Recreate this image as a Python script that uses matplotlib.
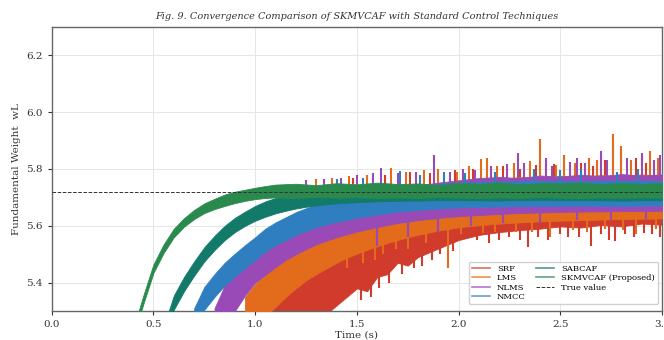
import matplotlib
matplotlib.use("Agg")
import matplotlib.pyplot as plt
from matplotlib.lines import Line2D

plt.rcParams['font.family'] = ['DejaVu Serif']

TRUE_W = 5.72

# noise bands: time (s), lower edge, upper edge
srf_t = [1.05, 1.10, 1.15, 1.20, 1.25, 1.30, 1.35, 1.40, 1.45, 1.50, 1.55, 1.60, 1.65, 1.70, 1.75,
         1.80, 1.85, 1.90, 1.95, 2.00, 2.10, 2.20, 2.30, 2.40, 2.50, 2.60, 2.70, 2.80, 2.90, 3.00]
srf_lo = [5.170, 5.210, 5.235, 5.255, 5.270, 5.275, 5.290, 5.320, 5.350, 5.380, 5.370, 5.420, 5.430, 5.470, 5.460,
          5.490, 5.505, 5.520, 5.535, 5.550, 5.568, 5.578, 5.585, 5.590, 5.598, 5.594, 5.603, 5.598, 5.608, 5.604]
srf_hi = [5.355, 5.390, 5.420, 5.450, 5.472, 5.497, 5.518, 5.538, 5.556, 5.573, 5.588, 5.603, 5.617, 5.630, 5.642,
          5.653, 5.663, 5.672, 5.681, 5.690, 5.705, 5.718, 5.729, 5.738, 5.746, 5.753, 5.758, 5.763, 5.767, 5.770]

lms_t = [0.95, 1.00, 1.05, 1.10, 1.15, 1.20, 1.25, 1.30, 1.35, 1.40, 1.45, 1.50, 1.55, 1.60, 1.65, 1.70,
         1.75, 1.80, 1.85, 1.90, 1.95, 2.00, 2.10, 2.20, 2.30, 2.40, 2.50, 2.60, 2.70, 2.80, 2.90, 3.00]
lms_lo = [5.200, 5.250, 5.280, 5.315, 5.350, 5.380, 5.408, 5.430, 5.450, 5.470, 5.488, 5.502, 5.516, 5.528, 5.540, 5.550,
          5.560, 5.568, 5.576, 5.583, 5.589, 5.595, 5.602, 5.608, 5.612, 5.616, 5.618, 5.620, 5.622, 5.624, 5.625, 5.626]
lms_hi = [5.350, 5.395, 5.430, 5.465, 5.500, 5.530, 5.558, 5.580, 5.600, 5.620, 5.636, 5.650, 5.664, 5.676, 5.688, 5.700,
          5.712, 5.722, 5.732, 5.742, 5.750, 5.756, 5.766, 5.762, 5.772, 5.768, 5.776, 5.771, 5.779, 5.774, 5.781, 5.776]

nlms_t = [0.80, 0.85, 0.90, 0.95, 1.00, 1.05, 1.10, 1.15, 1.20, 1.25, 1.30, 1.35, 1.40, 1.45, 1.50,
          1.60, 1.70, 1.80, 1.90, 2.00, 2.10, 2.20, 2.30, 2.40, 2.50, 2.60, 2.70, 2.80, 2.90, 3.00]
nlms_lo = [5.190, 5.265, 5.300, 5.355, 5.400, 5.428, 5.455, 5.480, 5.500, 5.518, 5.535, 5.548, 5.560, 5.570, 5.580,
           5.596, 5.610, 5.620, 5.628, 5.634, 5.638, 5.642, 5.645, 5.647, 5.649, 5.650, 5.651, 5.652, 5.652, 5.653]
nlms_hi = [5.310, 5.390, 5.445, 5.485, 5.520, 5.545, 5.570, 5.592, 5.612, 5.630, 5.646, 5.660, 5.672, 5.684, 5.694,
           5.712, 5.728, 5.742, 5.752, 5.760, 5.768, 5.772, 5.768, 5.777, 5.773, 5.780, 5.775, 5.782, 5.777, 5.781]

nmcc_t = [0.70, 0.75, 0.80, 0.85, 0.90, 0.95, 1.00, 1.05, 1.10, 1.15, 1.20, 1.25, 1.30,
          1.35, 1.40, 1.50, 1.60, 1.70, 1.80, 1.90, 2.00, 2.20, 2.40, 2.60, 2.80, 3.00]
nmcc_lo = [5.230, 5.305, 5.350, 5.390, 5.422, 5.452, 5.480, 5.510, 5.532, 5.550, 5.568, 5.582, 5.595,
           5.605, 5.614, 5.628, 5.640, 5.650, 5.656, 5.661, 5.665, 5.668, 5.670, 5.671, 5.670, 5.672]
nmcc_hi = [5.310, 5.385, 5.430, 5.470, 5.502, 5.532, 5.560, 5.590, 5.612, 5.630, 5.648, 5.662, 5.675,
           5.686, 5.695, 5.710, 5.722, 5.732, 5.740, 5.746, 5.752, 5.756, 5.758, 5.757, 5.759, 5.758]

sab_t = [0.55, 0.60, 0.65, 0.70, 0.75, 0.80, 0.85, 0.90, 0.95, 1.00, 1.05, 1.10, 1.15, 1.20, 1.25,
         1.30, 1.35, 1.40, 1.50, 1.60, 1.70, 1.80, 1.90, 2.00, 2.20, 2.40, 2.60, 2.80, 3.00]
sab_lo = [5.195, 5.305, 5.370, 5.425, 5.475, 5.515, 5.550, 5.578, 5.600, 5.618, 5.632, 5.644, 5.653, 5.661, 5.667,
          5.672, 5.676, 5.679, 5.683, 5.686, 5.688, 5.689, 5.690, 5.690, 5.689, 5.691, 5.690, 5.689, 5.690]
sab_hi = [5.245, 5.355, 5.420, 5.475, 5.525, 5.565, 5.600, 5.628, 5.650, 5.670, 5.686, 5.698, 5.707, 5.714, 5.720,
          5.725, 5.729, 5.732, 5.736, 5.739, 5.741, 5.742, 5.743, 5.742, 5.744, 5.743, 5.745, 5.743, 5.744]

skm_t = [0.40, 0.45, 0.50, 0.55, 0.60, 0.65, 0.70, 0.75, 0.80, 0.85, 0.90, 0.95, 1.00, 1.05,
         1.10, 1.20, 1.30, 1.40, 1.50, 1.60, 1.70, 1.80, 1.90, 2.00,
         2.10, 2.20, 2.30, 2.40, 2.50, 2.60, 2.70, 2.80, 2.90, 3.00]
skm_lo = [5.205, 5.325, 5.435, 5.505, 5.560, 5.597, 5.624, 5.645, 5.659, 5.670, 5.680, 5.688, 5.694, 5.698,
          5.700, 5.698, 5.702, 5.699, 5.701, 5.697, 5.700, 5.698, 5.701, 5.699,
          5.697, 5.700, 5.698, 5.701, 5.699, 5.697, 5.700, 5.698, 5.700, 5.699]
skm_hi = [5.235, 5.355, 5.465, 5.535, 5.590, 5.627, 5.656, 5.679, 5.695, 5.710, 5.720, 5.727, 5.734, 5.740,
          5.745, 5.748, 5.743, 5.750, 5.746, 5.752, 5.747, 5.749, 5.744, 5.751,
          5.748, 5.753, 5.746, 5.750, 5.749, 5.752, 5.747, 5.751, 5.748, 5.750]

# single spikes sticking out of the bands (time, tip value), drawn from the true value
lms_spk_t = [1.30, 1.38, 1.46, 1.55, 1.67, 1.74, 1.83, 1.90, 1.99, 2.05, 2.11, 2.14, 2.19, 2.27, 2.35,
             2.40, 2.48, 2.52, 2.57, 2.64, 2.68, 2.76, 2.80, 2.85, 2.94, 2.98,
             1.45, 1.53, 1.59, 1.63, 1.69, 1.75, 1.84, 1.95, 2.01, 2.12, 2.18, 2.28, 2.36, 2.45,
             2.56, 2.63, 2.72, 2.81, 2.87, 2.97]
lms_spk_y = [5.765, 5.770, 5.775, 5.780, 5.805, 5.790, 5.795, 5.800, 5.790, 5.810, 5.834, 5.840, 5.810, 5.820, 5.828,
             5.904, 5.815, 5.850, 5.820, 5.840, 5.830, 5.922, 5.880, 5.830, 5.863, 5.840,
             5.450, 5.470, 5.480, 5.500, 5.520, 5.520, 5.540, 5.450, 5.570, 5.575, 5.580, 5.580, 5.580, 5.560,
             5.585, 5.580, 5.590, 5.585, 5.570, 5.590]
nlms_spk_t = [1.25, 1.34, 1.42, 1.50, 1.58, 1.62, 1.70, 1.79, 1.88, 1.96, 2.02, 2.08, 2.16, 2.24, 2.29,
              2.32, 2.43, 2.46, 2.55, 2.58, 2.62, 2.70, 2.73, 2.83, 2.90, 2.96, 2.99,
              1.60, 1.75, 1.90, 2.06, 2.22, 2.40, 2.58, 2.75, 2.92]
nlms_spk_y = [5.760, 5.765, 5.770, 5.780, 5.785, 5.805, 5.785, 5.790, 5.850, 5.790, 5.800, 5.795, 5.810, 5.816, 5.857,
              5.820, 5.840, 5.810, 5.825, 5.840, 5.820, 5.863, 5.830, 5.840, 5.857, 5.830, 5.850,
              5.530, 5.560, 5.580, 5.600, 5.610, 5.610, 5.620, 5.620, 5.625]
srf_spk_t = [1.48, 1.64, 1.76, 1.86, 1.98, 2.07, 2.22, 2.30, 2.38, 2.47, 2.60, 2.66, 2.72, 2.87, 2.92,
             1.52, 1.57, 1.61, 1.66, 1.72, 1.78, 1.82, 1.87, 1.91, 1.97, 2.04, 2.09, 2.15, 2.20, 2.25,
             2.30, 2.34, 2.39, 2.44, 2.50, 2.54, 2.59, 2.65, 2.70, 2.74, 2.77, 2.82, 2.86, 2.91, 2.95, 2.99]
srf_spk_y = [5.770, 5.780, 5.790, 5.785, 5.795, 5.800, 5.810, 5.800, 5.815, 5.816, 5.820, 5.810, 5.830, 5.840, 5.820,
             5.340, 5.350, 5.380, 5.400, 5.430, 5.450, 5.460, 5.480, 5.500, 5.510, 5.559, 5.550, 5.540, 5.550, 5.560,
             5.550, 5.524, 5.560, 5.550, 5.570, 5.559, 5.560, 5.530, 5.570, 5.550, 5.545, 5.570, 5.560, 5.575, 5.570, 5.560]
nmcc_spk_t = [1.40, 1.53, 1.71, 1.81, 1.93, 2.03, 2.18, 2.37, 2.50, 2.60, 2.78, 2.88]
nmcc_spk_y = [5.765, 5.770, 5.793, 5.780, 5.790, 5.785, 5.790, 5.800, 5.795, 5.800, 5.790, 5.800]

series = [
    ("SRF", "#d03b2b", srf_t, srf_lo, srf_hi, srf_spk_t, srf_spk_y),
    ("LMS", "#e36b1c", lms_t, lms_lo, lms_hi, lms_spk_t, lms_spk_y),
    ("NLMS", "#9a4ab6", nlms_t, nlms_lo, nlms_hi, nlms_spk_t, nlms_spk_y),
    ("NMCC", "#2f7fc0", nmcc_t, nmcc_lo, nmcc_hi, nmcc_spk_t, nmcc_spk_y),
    ("SABCAF", "#137a6a", sab_t, sab_lo, sab_hi, [], []),
    ("SKMVCAF (Proposed)", "#2a8a4e", skm_t, skm_lo, skm_hi, [], []),
]

fig = plt.figure(figsize=(6.64, 3.40), dpi=100)
ax = fig.add_axes([0.078, 0.085, 0.919, 0.836])

handles = []
for z, (name, col, t, lo, hi, st, sy) in enumerate(series):
    ax.fill_between(t, lo, hi, color=col, lw=0.6, edgecolor=col, zorder=2 + z)
    if st:
        ax.vlines(st, TRUE_W, sy, color=col, lw=1.5, zorder=2 + z)
    handles.append(Line2D([], [], color=col, lw=1.2, alpha=0.75, label=name))

ax.axhline(TRUE_W, color="#333333", ls="--", lw=0.7, zorder=20)
handles.append(Line2D([], [], color="#333333", ls="--", lw=0.7, label="True value"))

ax.set_xlim(0, 3.0)
ax.set_ylim(5.3, 6.3)
ax.set_xticks([0.0, 0.5, 1.0, 1.5, 2.0, 2.5, 3.0])
ax.set_yticks([5.4, 5.6, 5.8, 6.0, 6.2])
ax.grid(True, color="#e6e6e6", lw=0.7, zorder=0)
ax.set_axisbelow(True)
for s in ax.spines.values():
    s.set_color("#666666")
    s.set_linewidth(1.0)
ax.tick_params(labelsize=7.5, colors="#333333", length=3, width=0.8)

ax.set_xlabel("Time (s)", fontsize=7.5, color="#333333", labelpad=1)
ax.set_ylabel("Fundamental Weight  wL", fontsize=7.5, color="#333333", labelpad=4)
ax.set_title("Fig. 9. Convergence Comparison of SKMVCAF with Standard Control Techniques",
             fontsize=7, style="italic", color="#333333", pad=6)

leg = ax.legend(handles=handles, ncol=2, loc="lower right", fontsize=6,
                frameon=True, framealpha=0.9, edgecolor="#cccccc",
                handlelength=2.2, columnspacing=1.2, labelspacing=0.15,
                borderpad=0.4, bbox_to_anchor=(1.0, 0.01))
leg.set_zorder(30)

fig.savefig("out.png", dpi=100)
